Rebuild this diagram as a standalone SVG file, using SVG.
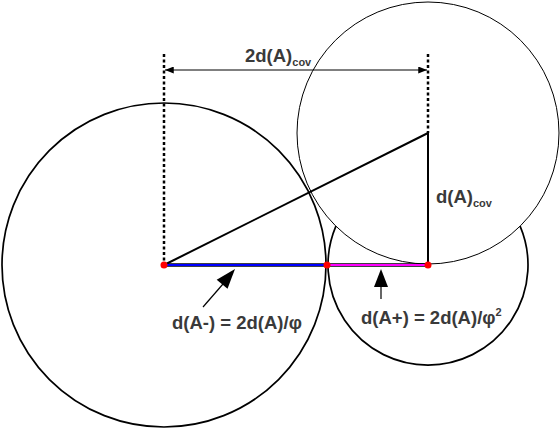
<svg xmlns="http://www.w3.org/2000/svg" width="560" height="428" viewBox="0 0 560 428">
<style>
.lbl{font-family:"Liberation Sans",Arial,sans-serif;font-weight:bold;font-size:18.5px;fill:#3a3a3a}
.sub{font-size:11px}
.circ{fill:none;stroke:#000}
.dash{stroke:#000;stroke-width:2.5;stroke-dasharray:3 2.5;fill:none}
.dot{fill:#ff0000}
</style>
<defs>
<marker id="ah" viewBox="0 0 10 8" refX="10" refY="4" markerWidth="9" markerHeight="7" markerUnits="userSpaceOnUse" orient="auto-start-reverse">
<path d="M0,0 L10,4 L0,8 Z" fill="#000"/>
</marker>
</defs>
<rect width="560" height="428" fill="#fff"/>
<g id="circle-big"><circle class="circ" cx="164" cy="265" r="162" stroke-width="1.7"/></g>
<g id="circle-top"><circle class="circ" cx="428" cy="133" r="131" stroke-width="1"/></g>
<g id="circle-small"><path class="circ" d="M335.9,226.1 A100,100 0 1 0 520.1,226.1" stroke-width="1.7"/></g>
<g id="connectors">
<line class="dash" x1="164" y1="54" x2="164" y2="265"/>
<line class="dash" x1="428" y1="54" x2="428" y2="133"/>
<line x1="165" y1="70" x2="427" y2="70" stroke="#000" stroke-width="1" marker-start="url(#ah)" marker-end="url(#ah)"/>
<line x1="164" y1="265" x2="428" y2="133" stroke="#000" stroke-width="2"/>
<line x1="428" y1="133" x2="428" y2="265" stroke="#000" stroke-width="2"/>
<line x1="164" y1="265" x2="428" y2="265" stroke="#000" stroke-width="3.4"/>
<line x1="164" y1="265" x2="327" y2="265" stroke="#0000ff" stroke-width="2.2"/>
<line x1="327" y1="265" x2="428" y2="265" stroke="#ff00ff" stroke-width="2.2"/>
<line x1="203" y1="307" x2="223" y2="284" stroke="#000" stroke-width="1.2"/>
<path d="M235,269 L227.5,288.8 L216.7,279.8 Z" fill="#000"/>
<line x1="381" y1="299" x2="381" y2="286" stroke="#000" stroke-width="1.2"/>
<path d="M381,269 L388,287 L374,287 Z" fill="#000"/>
</g>
<g id="points">
<circle class="dot" cx="164" cy="265" r="3.5"/>
<circle class="dot" cx="327" cy="265" r="3.5"/>
<circle class="dot" cx="428" cy="265" r="3.5"/>
</g>
<g id="label-top"><text class="lbl" x="245" y="62">2d(A)<tspan class="sub" dy="4">cov</tspan></text></g>
<g id="label-side"><text class="lbl" x="436" y="203">d(A)<tspan class="sub" dy="4">cov</tspan></text></g>
<g id="label-minus"><text class="lbl" x="172" y="329">d(A-) = 2d(A)/φ</text></g>
<g id="label-plus"><text class="lbl" x="361" y="324">d(A+) = 2d(A)/φ<tspan class="sub" dy="-8">2</tspan></text></g>
</svg>
